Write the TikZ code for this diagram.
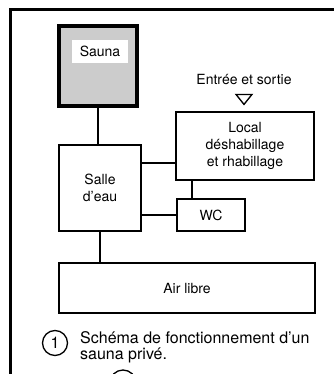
\documentclass[tikz,border=0pt]{standalone}
\usepackage{fontspec}
\setmainfont{TeX Gyre Heros}
\usepackage{tikz}
\usetikzlibrary{positioning,calc}

\begin{document}
\begin{tikzpicture}[x=1pt, y=-1pt,
  room/.style={draw, rectangle, line width=1.6pt, inner sep=0pt, align=center,
    font=\fontsize{14}{17}\selectfont},
  hot/.style={room, line width=3.5pt, fill=gray!40},
  link/.style={line width=1.5pt},
  frame/.style={line width=3.6pt},
  caption/.style={font=\fontsize{16}{16}\selectfont, align=left, inner sep=0pt}
]
\useasboundingbox (0,0) rectangle (334,374);
% sheet frame (only the top and left edges show)
\draw[frame] (10.5,374) -- (10.5,9.5) -- (334,9.5);

\node[hot, minimum width=78pt, minimum height=80pt] (sauna) at (98,66) {};
\node[fill=white, minimum width=56pt, minimum height=23pt, inner sep=0pt,
  font=\fontsize{14}{17}\selectfont] (saunalbl) at (100,51.5) {Sauna};
\node[room, minimum width=82pt, minimum height=86pt] (salle) at (100,188) {Salle\\d'eau};
\node[room, minimum width=138pt, minimum height=68pt] (local) at (245,146)
  {Local\\déshabillage\\et rhabillage};
\node[room, minimum width=68pt, minimum height=32pt] (wc) at (211,215) {WC};
\node[room, minimum width=256pt, minimum height=50pt] (air) at (187,288) {Air libre};

% entrance
\node[font=\fontsize{14}{17}\selectfont, inner sep=0pt] (entree) at (244,80) {Entrée et sortie};
\draw[line width=1.3pt] ($(entree.south)+(-8,9)$) -- ++(16,0) -- ++(-8,10) -- cycle;

% links between the rooms
\coordinate (lj) at ([yshift=-17pt]local.west);
\coordinate (wj) at ([xshift=-19pt]wc.north);
\draw[link] (sauna.south) -- (sauna.south |- salle.north);
\draw[link] (lj) -- (lj -| salle.east);
\draw[link] (wj) -- (wj |- local.south);
\draw[link] (wc.west) -- (wc.west -| salle.east);
\draw[link] (salle.south) -- (salle.south |- air.north);

% caption
\node[draw, circle, line width=1.3pt, minimum size=25pt, inner sep=0pt,
  font=\fontsize{16}{16}\selectfont] (num1) at (55,343) {1};
\node[caption, anchor=west] (cap1) at (80,347)
  {Schéma de fonctionnement d'un\\sauna privé.};
\node[draw, circle, line width=1.3pt, minimum size=26pt] (num2) at (123,383) {};
\end{tikzpicture}
\end{document}
